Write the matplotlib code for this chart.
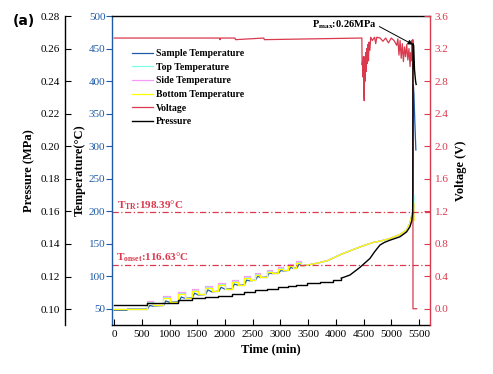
import matplotlib
matplotlib.use('Agg')
import matplotlib.pyplot as plt

plt.rcParams['font.family'] = 'serif'
plt.rcParams['font.serif'] = ['Liberation Serif', 'DejaVu Serif']
plt.rcParams['mathtext.fontset'] = 'custom'
plt.rcParams['mathtext.rm'] = 'Liberation Serif'
plt.rcParams['mathtext.bf'] = 'Liberation Serif:bold'
plt.rcParams['mathtext.it'] = 'Liberation Serif:italic'

BLUE = '#1f5aa6'
RED = '#d93a4e'
CYAN = '#80ffe8'
PINK = '#f59cf5'
YELLOW = '#ffff00'

# ---- data (time in min) ----
# stepped heating stage (bottom / top / side temperatures, drawn as steps)
t_step = [0, 590, 700, 880, 1000, 1160, 1280, 1400, 1520, 1640, 1760, 1880, 2000, 2120,
          2240, 2340, 2450, 2540, 2640, 2750, 2850, 2960, 3050, 3140, 3220, 3290, 3380]
bottom_step = [49.5, 59, 55, 66, 61, 72, 67, 77, 72, 82, 77, 86, 81, 91,
               87, 97, 94, 102, 99, 107, 105, 111, 109, 116, 113, 121, 116]
top_step = [49.5, 60.5, 55, 67.5, 61, 73.5, 67, 78.5, 72, 83.5, 77, 87.5, 81, 92.5,
            87, 98.5, 94, 103.5, 99, 108.5, 105, 112.5, 109, 117.5, 113, 122.5, 116]
side_step = [49.5, 62, 55, 69, 61, 75, 67, 80, 72, 85, 77, 89, 81, 94,
             87, 100, 94, 105, 99, 110, 105, 114, 109, 119, 113, 124, 116]

# self-heating stage
t_ramp = [3380, 3475, 3600, 3715, 3850, 3955, 4075, 4225, 4435, 4675, 4800, 4977,
          5157, 5277, 5337, 5367, 5397, 5405, 5412]
bottom_ramp = [116, 117, 119, 121, 124, 128, 133, 138, 145, 152, 154, 158,
               164, 171, 181, 192, 202, 212, 186]
top_ramp = [116, 117, 119, 121, 124, 128, 133, 138, 145, 152, 154, 158,
            164, 171, 181, 192, 202, 225, 197]
side_ramp = [116, 117, 119, 121, 124, 128, 133, 138, 145, 152, 154, 158,
             164, 171, 181, 192, 202, 210, 186]

t_sample = [0, 230, 240, 600, 640, 700, 890, 930, 1000, 1170, 1210, 1280, 1410, 1450,
            1520, 1650, 1690, 1760, 1890, 1930, 2000, 2130, 2170, 2240, 2350, 2390,
            2450, 2550, 2590, 2640, 2760, 2800, 2850, 2970, 3010, 3050, 3150, 3190,
            3220, 3300, 3340, 3380, 3475, 3600, 3715, 3850, 3955, 4075, 4225, 4435,
            4675, 4800, 4977, 5157, 5277, 5337, 5367, 5390, 5400, 5410, 5425, 5445]
sample = [47.5, 47.5, 49.5, 49.5, 55, 54, 55, 62, 60, 61, 68, 66, 67, 74,
          71, 72, 79, 76, 77, 83, 80, 81, 88, 86, 87, 94,
          93, 94, 100, 98, 99, 105, 104, 105, 109, 108, 109, 114,
          112, 113, 119, 116, 117, 119, 121, 124, 128, 133, 138, 145,
          152, 154, 158, 164, 171, 181, 192, 200, 394, 380, 340, 294]

t_volt = [0, 1900, 1910, 1920, 2180, 2190, 2700, 2710, 4470, 4475, 4485, 4490, 4500,
          4505, 4512, 4518, 4525, 4532, 4540, 4550, 4560, 4570, 4580, 4590, 4600,
          4615, 4630, 4660, 4700, 4720, 4740, 4800, 4850, 4900, 4950, 5000, 5050,
          5100, 5120, 5140, 5160, 5180, 5200, 5220, 5240, 5260, 5280, 5300, 5320,
          5340, 5355, 5365, 5375, 5385, 5391, 5393, 5460]
volt = [3.33, 3.33, 3.31, 3.33, 3.33, 3.31, 3.33, 3.31, 3.33, 3.00, 3.05, 2.85, 3.10,
        2.70, 2.56, 2.90, 3.10, 2.80, 3.15, 2.92, 3.20, 3.02, 3.25, 3.05, 3.28,
        3.18, 3.34, 3.30, 3.34, 3.26, 3.34, 3.33, 3.29, 3.33, 3.27, 3.33, 3.30,
        3.24, 3.32, 3.12, 3.30, 3.08, 3.26, 3.04, 3.22, 3.10, 3.25, 3.06, 3.20,
        2.98, 3.15, 3.05, 3.30, 3.20, 3.31, 0.0, 0.0]

t_press_step = [0, 590, 880, 1160, 1400, 1640, 1880, 2120, 2340, 2540, 2750, 2960,
                3140, 3290, 3475, 3715, 3955, 4100]
press_step = [0.1022, 0.1035, 0.1040, 0.1055, 0.1066, 0.1075, 0.1083, 0.1095, 0.1105,
              0.1115, 0.1125, 0.1133, 0.1143, 0.1150, 0.1158, 0.1166, 0.1180, 0.1190]
t_press_ramp = [4100, 4255, 4435, 4616, 4700, 4796, 4880, 4977, 5157, 5277, 5337, 5370,
                5386, 5390, 5393, 5405, 5420, 5440, 5450]
press_ramp = [0.1190, 0.1209, 0.1256, 0.1311, 0.1352, 0.1393, 0.1410, 0.1423, 0.1444,
              0.1474, 0.1505, 0.1540, 0.1587, 0.171, 0.263, 0.262, 0.247, 0.240, 0.238]

T_TR = 198.39
T_ONSET = 116.63

# ---- figure ----
fig = plt.figure(figsize=(4.93, 3.74), dpi=100)
ax = fig.add_axes([0.2272, 0.131, 0.645, 0.826])
ax_v = ax.twinx()
ax_p = ax.twinx()

# temperatures
l_s, = ax.plot(t_sample, sample, color=BLUE, lw=0.9, label='Sample Temperature')
l_t, = ax.plot(t_step, top_step, color=CYAN, lw=0.9, drawstyle='steps-post',
               label='Top Temperature')
ax.plot(t_ramp, top_ramp, color=CYAN, lw=0.9)
l_sd, = ax.plot(t_step, side_step, color=PINK, lw=0.9, drawstyle='steps-post',
                label='Side Temperature')
ax.plot(t_ramp, side_ramp, color=PINK, lw=0.9)
l_b, = ax.plot(t_step, bottom_step, color=YELLOW, lw=0.9, drawstyle='steps-post',
               label='Bottom Temperature')
ax.plot(t_ramp, bottom_ramp, color=YELLOW, lw=0.9)

ax.axhline(T_TR, color=RED, lw=0.9, ls=(0, (5, 2, 1, 2)))
ax.axhline(T_ONSET, color=RED, lw=0.9, ls=(0, (5, 2, 1, 2)))
ax.text(55, 209.5, r'$\mathbf{T_{TR}}$:198.39°C', color=RED, fontsize=8,
        fontweight='bold', ha='left', va='center')
ax.text(40, 128.5, r'$\mathbf{T_{onset}}$:116.63°C', color=RED, fontsize=8,
        fontweight='bold', ha='left', va='center')

ax.set_xlim(-40, 5700)
ax.set_ylim(25, 500)
ax.set_xticks(range(0, 5501, 500))
ax.set_yticks(range(50, 501, 50))

# voltage
l_v, = ax_v.plot(t_volt, volt, color=RED, lw=0.9, label='Voltage')
ax_v.set_ylim(-0.2, 3.6)
ax_v.set_yticks([0.0, 0.4, 0.8, 1.2, 1.6, 2.0, 2.4, 2.8, 3.2, 3.6])
ax_v.set_yticklabels(['%.1f' % v for v in ax_v.get_yticks()])

# pressure
l_p, = ax_p.plot(t_press_step, press_step, color='black', lw=1.0,
                 drawstyle='steps-post', label='Pressure')
ax_p.plot(t_press_ramp, press_ramp, color='black', lw=1.0)
ax_p.set_ylim(0.0902, 0.28)
ax_p.set_yticks([0.10, 0.12, 0.14, 0.16, 0.18, 0.20, 0.22, 0.24, 0.26, 0.28])
ax_p.set_yticklabels(['%.2f' % v for v in ax_p.get_yticks()])
ax_p.annotate(r'$\mathbf{P_{max}}$:0.26MPa', xy=(5392, 0.2625), xytext=(4150, 0.2745),
              fontsize=7.5, fontweight='bold', ha='center', va='center',
              arrowprops=dict(arrowstyle='-|>', color='black', lw=0.7,
                              mutation_scale=7, shrinkA=0, shrinkB=0,
                              relpos=(1.0, 0.5)))

# spines and ticks
ax.spines['left'].set_color(BLUE)
ax.spines['right'].set_visible(False)
ax.tick_params(axis='y', direction='out', length=4, color=BLUE, labelcolor=BLUE,
               labelsize=8, width=0.8, pad=0.8)
ax.tick_params(axis='x', direction='in', length=4, labelsize=8, width=0.8)

for s in ['left', 'top', 'bottom']:
    ax_v.spines[s].set_visible(False)
ax_v.spines['right'].set_color(RED)
ax_v.tick_params(axis='y', direction='in', length=4, color=RED, labelcolor=RED,
                 labelsize=8, width=0.8)

for s in ['right', 'top', 'bottom']:
    ax_p.spines[s].set_visible(False)
ax_p.spines['left'].set_visible(True)
ax_p.spines['left'].set_position(('axes', -0.149))
ax_p.yaxis.set_ticks_position('left')
ax_p.yaxis.set_label_position('left')
ax_p.tick_params(axis='y', direction='in', length=4, labelsize=8, width=0.8)

for a in (ax, ax_v, ax_p):
    for s in a.spines.values():
        s.set_linewidth(1.0)

ax.set_xlabel('Time (min)', fontsize=9, fontweight='bold')
ax.set_ylabel('Temperature(°C)', fontsize=9, fontweight='bold')
ax_v.set_ylabel('Voltage (V)', fontsize=9, fontweight='bold')
ax_p.set_ylabel('Pressure (MPa)', fontsize=9, fontweight='bold')
ax.xaxis.set_label_coords(0.5, -0.058)
ax.yaxis.set_label_coords(-0.082, 0.5)
ax_v.yaxis.set_label_coords(1.079, 0.5)
ax_p.yaxis.set_label_coords(-0.242, 0.5)

leg = ax_p.legend(handles=[l_s, l_t, l_sd, l_b, l_v, l_p], loc='upper left',
                  bbox_to_anchor=(0.05, 0.905), frameon=False,
                  prop={'weight': 'bold', 'size': 7}, handlelength=2.2,
                  handletextpad=0.3, labelspacing=0.47, borderaxespad=0)

fig.text(0.026, 0.945, '(a)', fontsize=10, fontweight='bold', family='DejaVu Sans',
         ha='left', va='center')

fig.savefig('out.png', dpi=100)
